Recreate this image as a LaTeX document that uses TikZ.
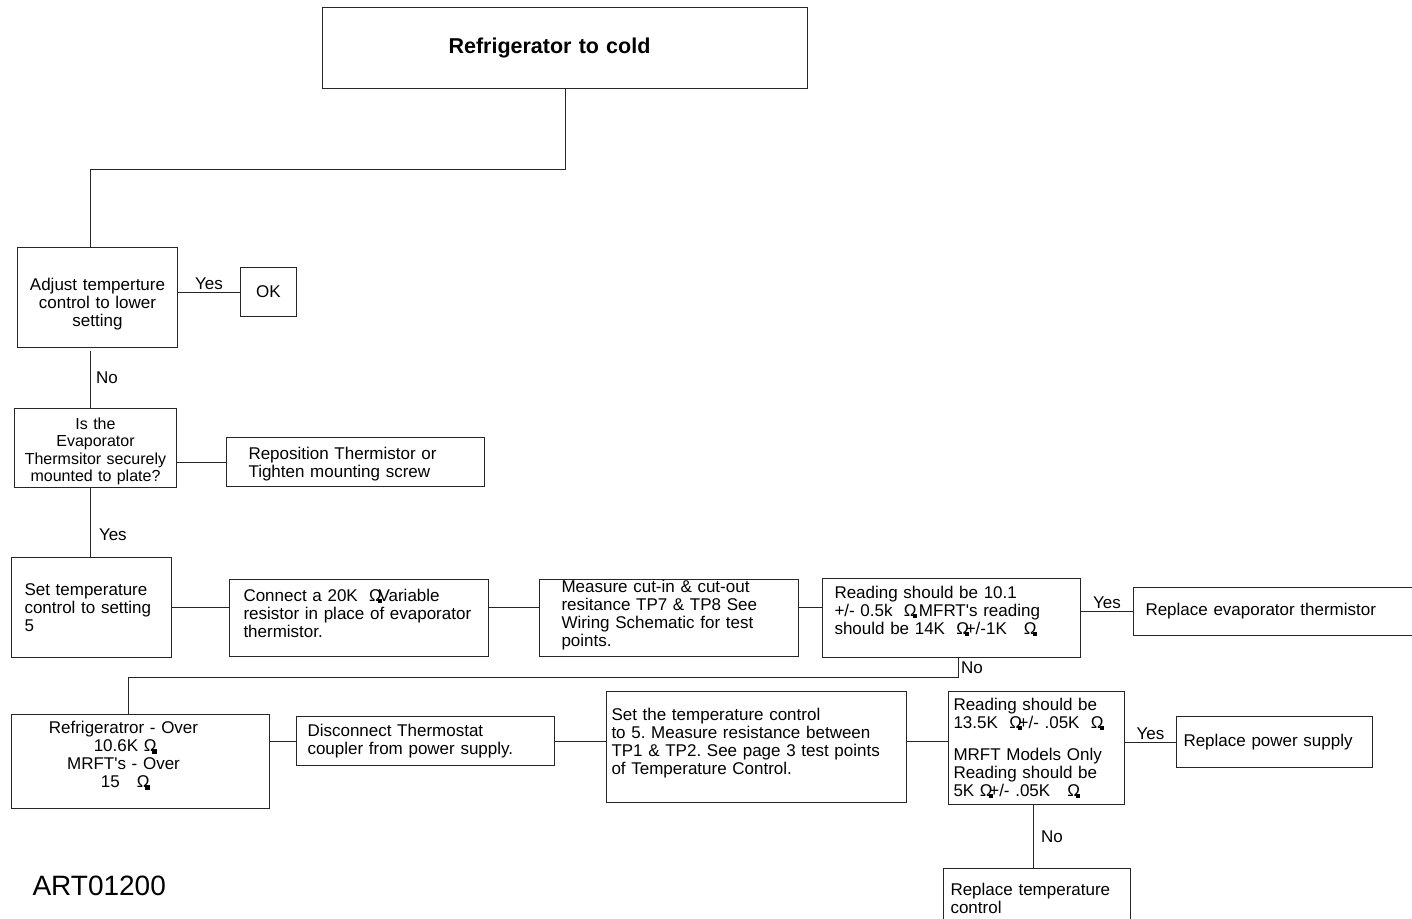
\documentclass[tikz,border=0pt]{standalone}
\usepackage{fontspec}
\setmainfont{Liberation Sans}
\usetikzlibrary{positioning}

\newcommand{\ohm}{\makebox[0.55em][l]{Ω\kern-0.24em\rule[-0.12em]{0.26em}{0.26em}}}
\newcommand{\bodyfont}{\fontsize{17}{18}\selectfont}
\frenchspacing

\begin{document}
\begin{tikzpicture}[
    x=1pt, y=-1pt,
    every node/.style={font=\bodyfont},
    box/.style={draw=black!85, line width=1pt, anchor=north west, inner ysep=0pt, align=left},
    link/.style={draw=black!85, line width=1pt},
    answer/.style={inner sep=2pt}
]
\useasboundingbox (0,0) rectangle (1412,918);

% Nodes
\node[box, text width=485pt, inner xsep=0pt, minimum height=81pt,
      font=\fontsize{21.5}{24}\selectfont\bfseries] (title) at (322,7)
    {\parbox{454pt}{\centering Refrigerator to cold}};
\node[box, align=center, text width=150pt, inner xsep=5pt, minimum height=100pt] (adjust) at (17,247)
    {Adjust temperture\\control to lower\\setting\vspace{-14pt}};
\node[box, align=center, text width=46pt, inner xsep=5pt, minimum height=49pt] (ok) at (240,267) {OK};
\node[box, align=center, text width=152pt, inner xsep=5pt, minimum height=79pt,
      font=\fontsize{16}{17.5}\selectfont] (thermo) at (14,408)
    {Is the\\Evaporator\\Thermsitor securely\\mounted to plate?\vspace{-7pt}};
\node[box, text width=214pt, inner xsep=22pt, minimum height=49pt] (repos) at (226,437)
    {Reposition Thermistor or\\Tighten mounting screw\vspace{-4pt}};
\node[box, text width=134pt, inner xsep=13pt, minimum height=100pt] (settemp) at (11,557)
    {Set temperature\\control to setting\\5};
\node[box, text width=231pt, inner xsep=14pt, minimum height=77pt] (connect) at (229,579)
    {Connect a 20K\ \ \ohm Variable\\resistor in place of evaporator\\thermistor.\vspace{10pt}};
\node[box, text width=215pt, inner xsep=22pt, minimum height=77pt] (measure) at (539,579)
    {Measure cut-in \& cut-out\\resitance TP7 \& TP8 See\\Wiring Schematic for test\\points.\vspace{6pt}};
\node[box, text width=234pt, inner xsep=12pt, minimum height=79pt] (reading) at (822,578)
    {Reading should be 10.1\\+/- 0.5k\ \ \ohm\ MFRT\textquotesingle s reading\\should be 14K\ \ \ohm+/-1K\quad\ohm\vspace{14pt}};
\node[box, text width=276pt, inner xsep=12pt, minimum height=48pt] (replev) at (1133,587)
    {Replace evaporator thermistor};
\node[box, text width=258pt, inner xsep=0pt, minimum height=94pt] (fridge) at (11,714)
    {\parbox{224pt}{\centering Refrigeratror - Over\\10.6K \ohm\\MRFT\textquotesingle s - Over\\15\quad\ohm\vspace{12pt}}};
\node[box, text width=236pt, inner xsep=11pt, minimum height=49pt] (disc) at (296,716)
    {Disconnect Thermostat\\coupler from power supply.};
\node[box, text width=290pt, inner xsep=5pt, minimum height=111pt] (settc) at (606,691)
    {Set the temperature control\\to 5. Measure resistance between\\TP1 \& TP2. See page 3 test points\\of Temperature Control.\vspace{8pt}};
\node[box, text width=166pt, inner xsep=5pt, minimum height=113pt] (read2) at (948,691)
    {Reading should be\\13.5K\ \ \ohm+/- .05K\ \ \ohm\\[14pt]MRFT Models Only\\Reading should be\\5K \ohm+/- .05K\quad\ohm};
\node[box, text width=182pt, inner xsep=7pt, minimum height=51pt] (power) at (1176,716)
    {Replace power supply};
\node[box, text width=173pt, inner xsep=7pt, minimum height=62pt] (reptc) at (943,868)
    {Replace temperature\\control\vspace{3pt}};
\node[anchor=west, font=\fontsize{28}{30}\selectfont] (artno) at (29,886) {ART01200};

% Connectors
\draw[link] (title.south) -- ++(0,80) -| ([xshift=-7pt]adjust.north);
\draw[link] (adjust.east |- ok.west) -- node[above, answer]{Yes} (ok.west);
\draw[link, shorten <=3pt] ([xshift=-7pt]adjust.south) -- node[right, inner sep=5pt]{No} ([xshift=-5pt]thermo.north);
\draw[link] (thermo.east |- repos.west) -- (repos.west);
\draw[link] ([xshift=-5pt]thermo.south) -- node[right, pos=0.68, inner sep=8pt]{Yes} ([xshift=-1pt]settemp.north);
\draw[link] (settemp.east) -- (settemp.east -| connect.west);
\draw[link] (connect.east |- settemp.east) -- (settemp.east -| measure.west);
\draw[link] (measure.east |- settemp.east) -- (settemp.east -| reading.west);
\draw[link] (reading.east |- replev.west) -- node[above, answer]{Yes} (replev.west);
\draw[link] ([xshift=7pt]reading.south) -- node[right, answer]{No} ++(0,19) -| ([xshift=-12pt]fridge.north);
\draw[link] (fridge.east |- disc.west) -- (disc.west);
\draw[link] (disc.east) -- (disc.east -| settc.west);
\draw[link] (settc.east |- disc.east) -- (disc.east -| read2.west);
\draw[link] (read2.east |- power.west) -- node[above, answer]{Yes} (power.west);
\draw[link] ([xshift=-3pt]read2.south) -- node[right, inner sep=7pt]{No} ([xshift=-3pt]read2.south |- reptc.north);

\end{tikzpicture}
\end{document}
